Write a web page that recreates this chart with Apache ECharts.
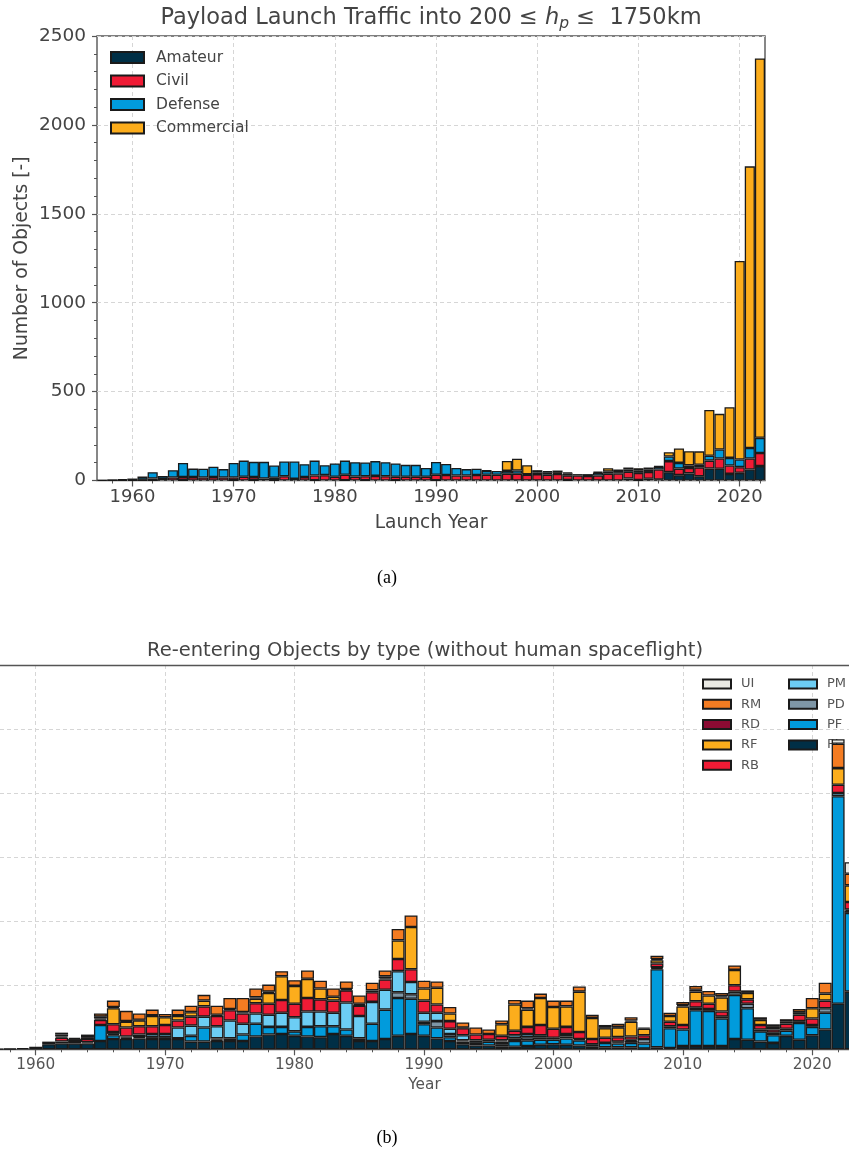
<!DOCTYPE html>
<html><head><meta charset="utf-8">
<script src="https://cdn.jsdelivr.net/npm/echarts@6/dist/echarts.min.js"></script>
<style>html,body{margin:0;padding:0;background:#fff;overflow:hidden}#c{width:849px;height:1151px}</style>
</head><body><div id="c"></div>
<script>
// ---------- (a) Payload launch traffic ----------
const launchYears = [1957,1958,1959,1960,1961,1962,1963,1964,1965,1966,
  1967,1968,1969,1970,1971,1972,1973,1974,1975,1976,
  1977,1978,1979,1980,1981,1982,1983,1984,1985,1986,
  1987,1988,1989,1990,1991,1992,1993,1994,1995,1996,
  1997,1998,1999,2000,2001,2002,2003,2004,2005,2006,
  2007,2008,2009,2010,2011,2012,2013,2014,2015,2016,
  2017,2018,2019,2020,2021,2022];
const amateur = [0,0,0,0,1,1,0,0,1,0, 0,0,0,1,0,1,0,1,0,0, 0,1,0,0,1,0,1,0,0,1,
  0,0,0,1,0,0,0,0,0,0, 0,0,0,0,0,0,2,0,0,0, 0,0,11,2,10,6,47,30,40,24, 67,66,37,43,62,81];
const civil = [0,1,2,3,4,10,9,17,18,19, 17,19,17,16,21,18,11,14,24,9, 19,27,30,21,31,22,23,26,24,20,
  21,21,21,31,31,28,28,31,32,32, 38,38,32,36,32,37,27,28,25,28, 38,39,38,41,38,56,62,37,30,50, 45,58,47,32,62,74];
const defense = [2,3,5,8,17,36,17,41,80,48, 49,58,47,82,91,86,94,69,83,98, 73,84,56,75,80,81,77,83,79,75,
  67,67,50,72,62,42,36,35,22,22, 16,18,3,8,15,6,11,8,11,16, 13,8,13,12,13,16,26,32,15,15, 27,50,43,43,59,85];
const commercial = [0,0,0,0,0,0,0,0,0,0, 0,0,0,0,0,0,0,0,0,0, 0,0,0,0,0,0,0,0,0,0,
  0,0,0,0,0,0,0,0,2,0, 56,66,51,14,5,13,5,0,0,5, 18,15,11,14,12,4,24,81,80,75, 258,201,285,1117,1584,2134];

// ---------- (b) Re-entering objects by type ----------
const reentryYears = [1957,1958,1959,1960,1961,1962,1963,1964,1965,1966,
  1967,1968,1969,1970,1971,1972,1973,1974,1975,1976,
  1977,1978,1979,1980,1981,1982,1983,1984,1985,1986,
  1987,1988,1989,1990,1991,1992,1993,1994,1995,1996,
  1997,1998,1999,2000,2001,2002,2003,2004,2005,2006,
  2007,2008,2009,2010,2011,2012,2013,2014,2015,2016,
  2017,2018,2019,2020,2021,2022,2023];
const PL = [0.5,1,2,4,8,9,9,9,13,16, 16,17,16,16,16,12,12,13,13,13, 20,23,24,21,20,19,24,21,13,13,
  16,21,24,21,17,13,8,6,6,4, 4,5,7,8,7,6,4,3,3,3, 1,3,2,5,5,5,5,16,15,12, 10,21,15,22,31,71,90];
const PF = [0,0,0,0,0,3,0,2,25,6, 2,2,3,3,1,9,22,2,4,10, 20,12,11,7,15,17,12,10,4,27,
  46,59,55,18,17,6,4,4,6,4, 9,9,8,7,10,8,4,7,6,7, 8,122,31,26,56,55,43,69,49,16, 12,8,26,13,26,324,123];
const PD = [0,0,0,0,4,0,0,0,0,2, 0,0,0,0,0,0,0,2,0,0, 0,0,0,0,0,0,0,0,0,0,
  0,9,7,4,10,5,2,0,0,4, 4,5,3,0,3,0,0,0,2,3, 7,2,3,0,4,3,3,5,7,3, 4,3,3,3,7,0,3];
const PM = [0,0,0,0,0,0,0,0,0,3, 2,4,5,5,17,16,17,19,28,17, 16,19,22,22,24,23,21,42,35,34,
  31,33,19,14,13,8,8,4,3,2, 5,5,4,3,4,2,0,0,1,2, 0,1,0,0,0,0,0,0,0,0, 0,0,0,0,0,5,2];
const RB = [0,0,0,0,0,6,4,5,8,12, 14,13,12,14,11,14,16,16,16,16, 16,17,20,21,21,19,19,19,16,15,
  16,19,20,19,13,12,11,9,9,7, 7,11,16,14,11,11,8,8,7,5, 6,6,7,7,10,8,8,10,7,7, 5,8,10,10,12,13,12];
const RF = [0,0,0,0,0,2,0,0,2,25, 9,9,16,12,7,7,9,0,0,0, 7,17,37,28,30,17,6,0,1,0,
  2,29,66,19,26,12,1,0,0,18, 41,27,42,34,32,63,33,15,15,23, 10,5,9,29,15,13,22,24,10,8, 4,0,4,16,11,26,26];
const RD = [0,0,0,0,0,3,3,3,3,2, 1,1,1,0,1,0,0,2,2,2, 2,2,0,0,0,0,0,2,2,3,
  3,0,0,0,0,0,0,0,0,0, 0,2,0,0,0,0,0,1,1,2, 0,2,0,2,3,0,2,0,0,0, 0,3,0,0,0,0,0];
const RM = [0,0,0,0,0,3,2,4,5,10, 16,10,9,5,9,10,9,14,17,22, 14,11,8,9,13,12,13,12,13,12,
  9,18,18,12,10,10,8,11,7,6, 7,12,7,10,9,8,5,4,5,5, 2,5,5,5,6,7,5,7,4,4, 4,4,5,16,17,38,18];
const UI = [0,0,0,0,0,0,0,0,0,0, 0,0,0,0,0,0,0,0,0,0, 0,0,0,0,0,0,0,0,0,0,
  0,0,0,0,0,0,0,0,0,0, 0,0,0,0,0,0,0,0,0,0, 0,0,0,0,0,0,0,0,0,0, 0,0,0,0,0,7,18];

// ---------- ticks ----------
const majorTickYears = [1960,1970,1980,1990,2000,2010,2020];
const minorTickYears = [1958,1960,1962,1964,1966,1968,1970,1972,1974,1976,1978,1980,1982,1984,1986,1988,
  1990,1992,1994,1996,1998,2000,2002,2004,2006,2008,2010,2012,2014,2016,2018,2020,2022];

const FONT = 'DejaVu Sans';
const TXT = '#444';
const EDGE = '#1a1a1a';
const GRIDLINE = {show:true, lineStyle:{color:'#d6d6d6', type:[4,3], width:1}};
const plain = v => String(v);

const chart = echarts.init(document.getElementById('c'), null, {renderer:'canvas'});

function barSeries(name, data, color, xi, yi, stack, encode){
  const s = {name, type:'bar', stack, data, xAxisIndex:xi, yAxisIndex:yi,
    barWidth:'100%', barCategoryGap:'0%', clip:true,
    itemStyle:{color, borderColor:EDGE, borderWidth:1.3},
    emphasis:{disabled:true}, animation:false};
  if (encode) s.encode = encode;
  return s;
}
const noZero = arr => arr.map(v => v === 0 ? null : v);
// value first, year second, so that the stack is computed on the count dimension
const pairs = arr => reentryYears.map((y, i) => [arr[i] === 0 ? null : arr[i], y]);
const ENC = {x:1, y:0};

const B_MIN = 1957.24, B_MAX = 2022.84;

const option = {
  animation:false,
  textStyle:{fontFamily:FONT},
  grid:[
    {left:97, right:84, top:36, height:444.5, show:true, borderColor:'#555', borderWidth:1.4, backgroundColor:'transparent'},
    {left:0, right:0, top:665, height:384.3, show:false}
  ],
  xAxis:[
    {type:'category', gridIndex:0, data:launchYears, axisLine:{show:false}, axisTick:{show:false}, axisLabel:{show:false}, splitLine:{show:false}},
    {type:'value', gridIndex:0, position:'bottom', min:1956.5, max:2022.5, axisLine:{show:false},
      axisTick:{show:true, length:6, customValues:majorTickYears, lineStyle:{color:'#555', width:1.2}},
      axisLabel:{customValues:majorTickYears, formatter:plain, fontSize:18, color:TXT, margin:8, fontFamily:FONT},
      splitLine:GRIDLINE,
      name:'Launch Year', nameLocation:'middle', nameGap:33, nameTextStyle:{fontSize:18.6, color:TXT, fontFamily:FONT}},
    {type:'value', gridIndex:0, position:'bottom', min:1956.5, max:2022.5, axisLine:{show:false},
      axisTick:{show:true, length:3, customValues:minorTickYears, lineStyle:{color:'#555', width:1}},
      axisLabel:{show:false}, splitLine:{show:false}},
    {type:'value', gridIndex:1, position:'bottom', min:B_MIN, max:B_MAX,
      axisLine:{show:true, lineStyle:{color:'#555', width:1.4}},
      axisTick:{show:true, length:6, customValues:majorTickYears, lineStyle:{color:'#555', width:1.2}},
      axisLabel:{customValues:majorTickYears, formatter:plain, fontSize:15.3, color:'#555', margin:8, fontFamily:FONT},
      splitLine:GRIDLINE,
      name:'Year', nameLocation:'middle', nameGap:28, nameTextStyle:{fontSize:15.3, color:'#555', fontFamily:FONT}},
    {type:'value', gridIndex:1, position:'bottom', min:B_MIN, max:B_MAX, axisLine:{show:false},
      axisTick:{show:true, length:3, customValues:minorTickYears, lineStyle:{color:'#555', width:1}},
      axisLabel:{show:false}, splitLine:{show:false}},
    {type:'value', gridIndex:1, position:'top', min:B_MIN, max:B_MAX,
      axisLine:{show:true, lineStyle:{color:'#555', width:1.4}},
      axisTick:{show:false}, axisLabel:{show:false}, splitLine:{show:false}}
  ],
  yAxis:[
    {type:'value', gridIndex:0, min:0, max:2500, interval:500, axisLine:{show:false},
      axisTick:{show:true, length:5, lineStyle:{color:'#555', width:1.2}},
      minorTick:{show:true, splitNumber:5, length:3, lineStyle:{color:'#555', width:1}},
      axisLabel:{formatter:plain, fontSize:18.5, color:TXT, margin:11, fontFamily:FONT},
      splitLine:GRIDLINE,
      name:'Number of Objects [-]', nameLocation:'middle', nameGap:65, nameRotate:90, nameMoveOverlap:false,
      nameTextStyle:{fontSize:18.8, color:TXT, fontFamily:FONT}},
    {type:'value', gridIndex:1, min:0, max:600, interval:100, axisLine:{show:false},
      axisTick:{show:false}, axisLabel:{show:false}, splitLine:GRIDLINE}
  ],
  legend:[
    {data:['Amateur','Civil','Defense','Commercial'], orient:'vertical', left:110, top:48.5, padding:0,
      icon:'rect', itemWidth:33, itemHeight:11, itemGap:5.5, selectedMode:false,
      textStyle:{fontSize:15.5, color:TXT, lineHeight:18, padding:[0,0,0,7], fontFamily:FONT}},
    {data:['UI','RM','RD','RF','RB'], orient:'vertical', left:702, top:676, z:1, padding:0,
      icon:'rect', itemWidth:28, itemHeight:9, itemGap:4.3, selectedMode:false,
      textStyle:{fontSize:13, color:'#555', lineHeight:16, padding:[0,0,0,5], fontFamily:FONT}},
    {data:['PM','PD','PF','PL'], orient:'vertical', left:788, top:676, z:1, padding:0,
      icon:'rect', itemWidth:28, itemHeight:9, itemGap:4.3, selectedMode:false,
      textStyle:{fontSize:13, color:'#555', lineHeight:16, padding:[0,0,0,5], fontFamily:FONT}}
  ],
  series:[
    barSeries('Amateur', noZero(amateur), '#002f46', 0, 0, 'a'),
    barSeries('Civil', noZero(civil), '#ef1b35', 0, 0, 'a'),
    barSeries('Defense', noZero(defense), '#019bdc', 0, 0, 'a'),
    barSeries('Commercial', noZero(commercial), '#fcad1c', 0, 0, 'a'),
    barSeries('PL', pairs(PL), '#002f46', 3, 1, 'b', ENC),
    barSeries('PF', pairs(PF), '#019bdc', 3, 1, 'b', ENC),
    barSeries('PD', pairs(PD), '#7e96a6', 3, 1, 'b', ENC),
    barSeries('PM', pairs(PM), '#6ccdf4', 3, 1, 'b', ENC),
    barSeries('RB', pairs(RB), '#ef1b35', 3, 1, 'b', ENC),
    barSeries('RF', pairs(RF), '#fcad1c', 3, 1, 'b', ENC),
    barSeries('RD', pairs(RD), '#8b0b33', 3, 1, 'b', ENC),
    barSeries('RM', pairs(RM), '#f47c22', 3, 1, 'b', ENC),
    barSeries('UI', pairs(UI), '#e9e9e4', 3, 1, 'b', ENC)
  ],
  graphic:[
    {type:'text', x:431, y:18, silent:true, style:{
      text:'{n|Payload Launch Traffic into 200 ≤ }{i|h}{s|p}{n| ≤  1750km}',
      align:'center', verticalAlign:'middle',
      rich:{
        n:{fontSize:22.5, fontFamily:FONT, fill:TXT, lineHeight:28, verticalAlign:'middle'},
        i:{fontSize:22.5, fontFamily:FONT, fontStyle:'italic', fill:TXT, lineHeight:28, verticalAlign:'middle'},
        s:{fontSize:15.5, fontFamily:FONT, fontStyle:'italic', fill:TXT, lineHeight:22, verticalAlign:'bottom'}
      }}},
    {type:'text', x:425, y:651, silent:true, style:{
      text:'Re-entering Objects by type (without human spaceflight)',
      font:'19.5px "DejaVu Sans"', fill:TXT, align:'center', verticalAlign:'middle'}},
    {type:'text', x:387, y:578, silent:true, style:{text:'(a)', font:'18px "Liberation Serif"', fill:'#000', align:'center', verticalAlign:'middle'}},
    {type:'text', x:387, y:1138, silent:true, style:{text:'(b)', font:'18px "Liberation Serif"', fill:'#000', align:'center', verticalAlign:'middle'}}
  ]
};
chart.setOption(option);
</script>
</body></html>
